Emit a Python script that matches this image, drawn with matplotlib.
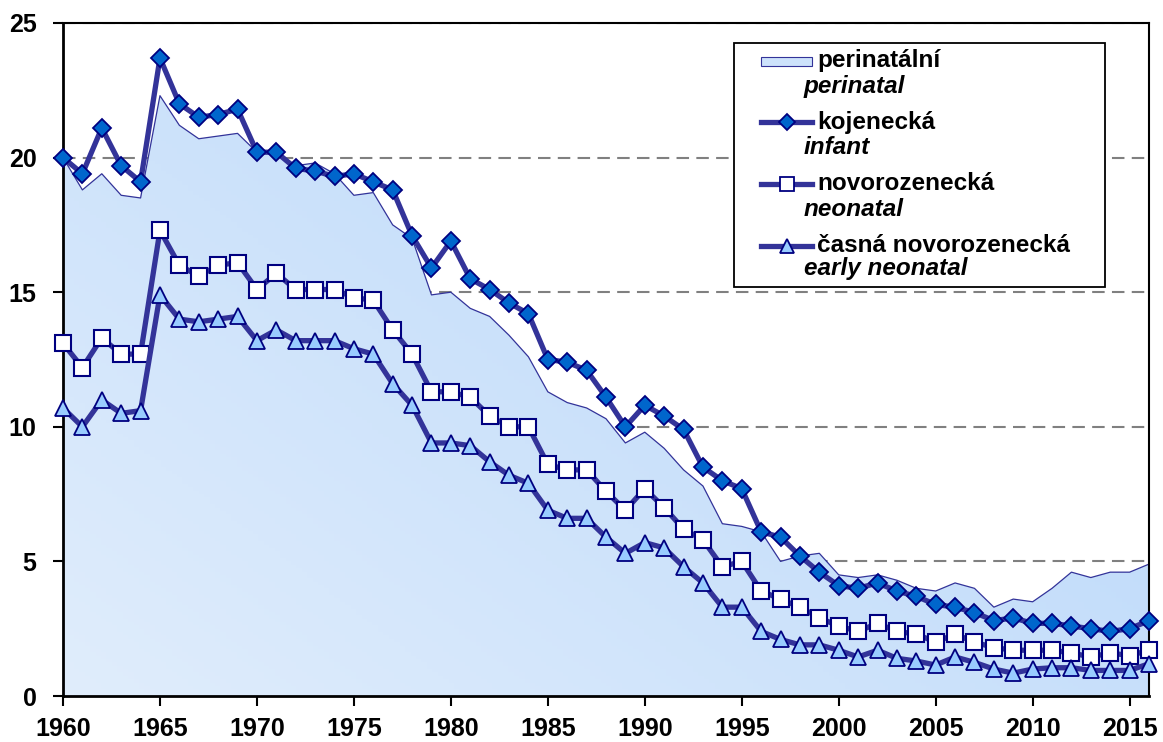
import numpy as np
import matplotlib
matplotlib.use('Agg')
import matplotlib.pyplot as plt
from matplotlib.colors import LinearSegmentedColormap
from matplotlib.patches import Rectangle
from matplotlib.lines import Line2D

plt.rcParams['font.family'] = ['Liberation Sans', 'DejaVu Sans']
plt.rcParams['font.weight'] = 'bold'

years = np.arange(1960, 2017)

perinatal = [20.0, 18.8, 19.4, 18.6, 18.5, 22.3, 21.2, 20.7, 20.8, 20.9,
             20.2, 20.2, 19.7, 19.8, 19.4, 18.6, 18.7, 17.5, 17.0, 14.9,
             15.0, 14.4, 14.1, 13.4, 12.6, 11.3, 10.9, 10.7, 10.3, 9.4,
             9.8, 9.2, 8.4, 7.8, 6.4, 6.3, 6.1, 5.0, 5.2, 5.3,
             4.5, 4.4, 4.5, 4.3, 4.0, 3.9, 4.2, 4.0, 3.3, 3.6,
             3.5, 4.0, 4.6, 4.4, 4.6, 4.6, 4.9]

infant = [20.0, 19.4, 21.1, 19.7, 19.1, 23.7, 22.0, 21.5, 21.6, 21.8,
          20.2, 20.2, 19.6, 19.5, 19.3, 19.4, 19.1, 18.8, 17.1, 15.9,
          16.9, 15.5, 15.1, 14.6, 14.2, 12.5, 12.4, 12.1, 11.1, 10.0,
          10.8, 10.4, 9.9, 8.5, 8.0, 7.7, 6.1, 5.9, 5.2, 4.6,
          4.1, 4.0, 4.2, 3.9, 3.7, 3.4, 3.3, 3.1, 2.8, 2.9,
          2.7, 2.7, 2.6, 2.5, 2.4, 2.5, 2.8]

neonatal = [13.1, 12.2, 13.3, 12.7, 12.7, 17.3, 16.0, 15.6, 16.0, 16.1,
            15.1, 15.7, 15.1, 15.1, 15.1, 14.8, 14.7, 13.6, 12.7, 11.3,
            11.3, 11.1, 10.4, 10.0, 10.0, 8.6, 8.4, 8.4, 7.6, 6.9,
            7.7, 7.0, 6.2, 5.8, 4.8, 5.0, 3.9, 3.6, 3.3, 2.9,
            2.6, 2.4, 2.7, 2.4, 2.3, 2.0, 2.3, 2.0, 1.8, 1.7,
            1.7, 1.7, 1.6, 1.45, 1.6, 1.5, 1.7]

early_neonatal = [10.7, 10.0, 11.0, 10.5, 10.6, 14.9, 14.0, 13.9, 14.0, 14.1,
                  13.2, 13.6, 13.2, 13.2, 13.2, 12.9, 12.7, 11.6, 10.8, 9.4,
                  9.4, 9.3, 8.7, 8.2, 7.9, 6.9, 6.6, 6.6, 5.9, 5.3,
                  5.7, 5.5, 4.8, 4.2, 3.3, 3.3, 2.4, 2.1, 1.9, 1.9,
                  1.7, 1.45, 1.7, 1.4, 1.3, 1.15, 1.45, 1.25, 1.0, 0.85,
                  1.0, 1.05, 1.05, 0.95, 0.95, 0.95, 1.2]

x_ticks = list(range(1960, 2016, 5))
y_ticks = [0, 5, 10, 15, 20, 25]

legend_cz = ['perinatální', 'kojenecká', 'novorozenecká', 'časná novorozenecká']
legend_en = ['perinatal', 'infant', 'neonatal', 'early neonatal']

line_col = '#333399'
edge_col = '#000080'

W, H = 1163, 742
fig = plt.figure(figsize=(W / 100, H / 100), dpi=100)
ax = fig.add_axes([63 / W, (H - 696) / H, (1149 - 63) / W, (696 - 23) / H])

# gradient filled area for perinatal
area = ax.fill_between(years, perinatal, 0, facecolor='none', edgecolor='none')
cmap = LinearSegmentedColormap.from_list('blu', ['#e0edfc', '#b3d4f9'])
gx, gy = np.meshgrid(np.linspace(0, 1, 200), np.linspace(0, 1, 200))
grad = gx * 0.55 + gy * 0.45
img = ax.imshow(grad, extent=[1960, 2016, 0, 25], origin='lower', aspect='auto',
                cmap=cmap, zorder=1)
img.set_clip_path(area.get_paths()[0], transform=ax.transData)
ax.plot(years, perinatal, color=line_col, lw=0.9, zorder=2)

ax.plot(years, infant, color=line_col, lw=3.8, marker='D', ms=9,
        mfc='#0066cc', mec=edge_col, mew=1.3, zorder=4, clip_on=False)
ax.plot(years, neonatal, color=line_col, lw=3.8, marker='s', ms=11.5,
        mfc='white', mec=edge_col, mew=1.5, zorder=4, clip_on=False)
ax.plot(years, early_neonatal, color=line_col, lw=3.8, marker='^', ms=11.5,
        mfc='#99ccff', mec=edge_col, mew=1.3, zorder=4, clip_on=False)

ax.set_xlim(1960, 2016)
ax.set_ylim(0, 25)
ax.set_xticks(x_ticks)
ax.set_xticklabels([str(t) for t in x_ticks])
ax.set_yticks(y_ticks)
ax.tick_params(axis='both', labelsize=18, length=7, width=1.5, direction='out')
ax.tick_params(axis='x', pad=8)
ax.tick_params(axis='y', pad=12)
for lab in ax.get_xticklabels() + ax.get_yticklabels():
    lab.set_fontweight('bold')

ax.yaxis.grid(True, color='#808080', linestyle=(0, (6, 3.5)), lw=1.5, zorder=0)
ax.set_axisbelow(True)
for s in ax.spines.values():
    s.set_linewidth(1.5)
    s.set_color('black')
ax.spines['bottom'].set_linewidth(2)
ax.spines['left'].set_linewidth(2)

# legend drawn by hand (two-line labels with italic English)
def fx(px):
    return px / W

def fy(py):
    return 1 - py / H

fig.patches.append(Rectangle((fx(734), fy(287)), fx(1105) - fx(734), fy(43) - fy(287),
                             transform=fig.transFigure, facecolor='white',
                             edgecolor='black', lw=1.3, zorder=5))
fig.patches.append(Rectangle((fx(761), fy(66)), fx(812) - fx(761), fy(57) - fy(66),
                             transform=fig.transFigure, facecolor='#cde2fb',
                             edgecolor=line_col, lw=0.8, zorder=6))
handle_y = [122, 184, 246]
handle_style = [('D', 8.5, '#0066cc'), ('s', 10, 'white'), ('^', 10, '#99ccff')]
for hy, (m, ms, mfc) in zip(handle_y, handle_style):
    fig.lines.append(Line2D([fx(761), fx(812)], [fy(hy), fy(hy)], transform=fig.transFigure,
                            color=line_col, lw=3.8, zorder=6))
    fig.lines.append(Line2D([fx(786.5)], [fy(hy)], transform=fig.transFigure, marker=m,
                            ms=ms, mfc=mfc, mec=edge_col, mew=1.3, zorder=7))

cz_y = [61, 122, 184, 246]
en_y = [87, 147, 209, 269]
for cz, en, y1, y2 in zip(legend_cz, legend_en, cz_y, en_y):
    fig.text(fx(817), fy(y1), cz, fontsize=17.5, fontweight='bold', va='center', ha='left', zorder=8)
    fig.text(fx(804), fy(y2), en, fontsize=17.5, fontweight='bold', style='italic',
             va='center', ha='left', zorder=8)

fig.savefig('out.png', dpi=100)
